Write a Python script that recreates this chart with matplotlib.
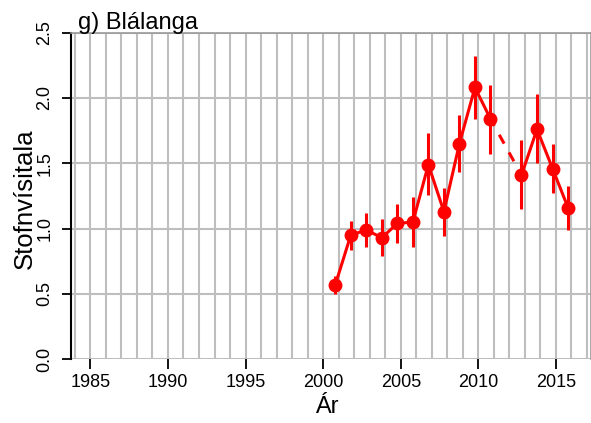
import numpy as np
import matplotlib
matplotlib.use("Agg")
import matplotlib.pyplot as plt

plt.rcParams['font.family'] = ['Liberation Sans', 'DejaVu Sans']

# stofnvisitala blalongu, ar og mat med oryggisbilum
years = [2001, 2002, 2003, 2004, 2005, 2006, 2007, 2008,
         2009, 2010, 2011, 2013, 2014, 2015, 2016]
index = [0.57, 0.95, 0.99, 0.93, 1.04, 1.05, 1.49, 1.13,
         1.65, 2.08, 1.84, 1.41, 1.76, 1.46, 1.16]
lower = [0.50, 0.84, 0.86, 0.79, 0.89, 0.86, 1.26, 0.94,
         1.43, 1.84, 1.57, 1.15, 1.50, 1.27, 0.99]
upper = [0.64, 1.06, 1.12, 1.07, 1.19, 1.24, 1.73, 1.31,
         1.87, 2.32, 2.10, 1.68, 2.03, 1.65, 1.33]
x_ticks = [1985, 1990, 1995, 2000, 2005, 2010, 2015]
y_ticks = [0.0, 0.5, 1.0, 1.5, 2.0, 2.5]

red = '#FF0000'
grid_col = '#BEBEBE'
shift = -0.22  # punktar teiknadir rett fyrir arsmerkid

fig = plt.figure(figsize=(5.91, 4.23), dpi=100)
ax = fig.add_axes([0.1201, 0.1506, 0.8794, 0.7723])

ax.set_xlim(1983.75, 2017.24)
ax.set_ylim(0, 2.5)

# grid
for yr in range(1984, 2018):
    ax.axvline(yr, color=grid_col, lw=1.5, zorder=0)
for v in y_ticks:
    ax.axhline(v, color=grid_col, lw=1.5, zorder=0)

x = np.array(years) + shift
idx = np.array(index)

# solid segments, dashed where a year is missing
seg_start = 0
for i in range(1, len(years) + 1):
    if i == len(years) or years[i] - years[i - 1] > 1:
        ax.plot(x[seg_start:i], idx[seg_start:i], color=red, lw=2.2,
                zorder=3)
        if i < len(years):
            ax.plot(x[i - 1:i + 1], idx[i - 1:i + 1], color=red, lw=2.2,
                    linestyle=(0.65, (3.3, 3.3)), zorder=3)
        seg_start = i

ax.vlines(x, lower, upper, color=red, lw=2.2, zorder=3)
ax.plot(x, idx, 'o', color=red, ms=9, zorder=4)

ax.set_xticks(x_ticks)
ax.set_yticks(y_ticks)
ax.set_xticklabels([str(t) for t in x_ticks], fontsize=13)
ax.set_yticklabels(['%.1f' % t for t in y_ticks], fontsize=13,
                   rotation=90, va='center')
ax.tick_params(axis='x', length=7.2, width=1.3, pad=3.6, direction='out')
ax.tick_params(axis='y', length=6.3, width=1.3, pad=6.5, direction='out')

for s in ['top', 'right']:
    ax.spines[s].set_color('#999999')
    ax.spines[s].set_linewidth(1.2)
ax.spines['bottom'].set_visible(False)
ax.spines['left'].set_color('black')
ax.spines['left'].set_linewidth(1.5)

ax.set_xlabel('Ár', fontsize=17)
ax.xaxis.set_label_coords(0.492, -0.1133)
ax.set_ylabel('Stofnvísitala', fontsize=18.5)
ax.yaxis.set_label_coords(-0.0666, 0.49)
fig.text(0.132, 1 - 28.5 / 423, 'g) Blálanga', fontsize=17, ha='left',
         va='baseline')

fig.savefig('out.png', dpi=100)
